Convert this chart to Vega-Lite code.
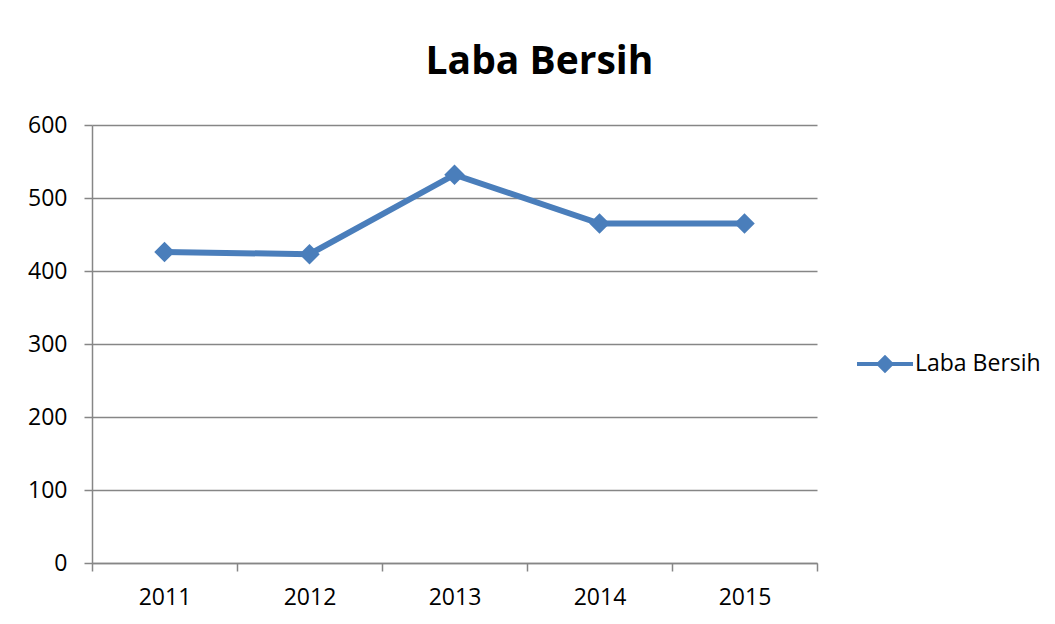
{
  "$schema": "https://vega.github.io/schema/vega-lite/v6.json",
  "width": 725,
  "height": 438,
  "autosize": {"type": "none"},
  "padding": {"left": 92, "top": 125, "right": 238, "bottom": 61},
  "background": "white",
  "title": {
    "text": "Laba Bersih",
    "font": "Open Sans",
    "fontSize": 39,
    "fontWeight": "bold",
    "color": "black",
    "anchor": "middle",
    "frame": "group",
    "baseline": "alphabetic",
    "offset": 1,
    "dx": 85
  },
  "data": {
    "values": [
      {"year": "2011", "value": 426, "series": "Laba Bersih"},
      {"year": "2012", "value": 423, "series": "Laba Bersih"},
      {"year": "2013", "value": 532, "series": "Laba Bersih"},
      {"year": "2014", "value": 465, "series": "Laba Bersih"},
      {"year": "2015", "value": 465, "series": "Laba Bersih"}
    ]
  },
  "encoding": {
    "x": {
      "field": "year",
      "type": "ordinal",
      "bandPosition": 0.5,
      "scale": {"type": "band", "paddingInner": 0, "paddingOuter": 0},
      "axis": {
        "title": null,
        "labelAngle": 0,
        "tickBand": "extent",
        "grid": false,
        "domainColor": "#868686",
        "tickColor": "#868686",
        "domainWidth": 1.5,
        "tickWidth": 1.5,
        "tickSize": 8,
        "labelFont": "Open Sans",
        "labelFontSize": 23,
        "labelColor": "black",
        "labelPadding": 15
      }
    },
    "y": {
      "field": "value",
      "type": "quantitative",
      "scale": {"domain": [0, 600], "nice": false},
      "axis": {
        "title": null,
        "values": [0, 100, 200, 300, 400, 500, 600],
        "grid": true,
        "gridColor": "#868686",
        "gridWidth": 1.5,
        "domainColor": "#868686",
        "tickColor": "#868686",
        "domainWidth": 1.5,
        "tickWidth": 1.5,
        "tickSize": 8,
        "labelFont": "Open Sans",
        "labelFontSize": 23,
        "labelColor": "black",
        "labelPadding": 17
      }
    }
  },
  "layer": [
    {
      "mark": {"type": "line", "color": "#4a7ebb", "strokeWidth": 6}
    },
    {
      "mark": {"type": "point", "shape": "diamond", "filled": true, "size": 420, "opacity": 1},
      "encoding": {
        "color": {
          "field": "series",
          "type": "nominal",
          "scale": {"range": ["#4a7ebb"]},
          "legend": {
            "title": null,
            "orient": "none",
            "legendX": 765,
            "legendY": 211,
            "padding": 0,
            "labelFont": "Open Sans",
            "labelFontSize": 23,
            "labelColor": "black",
            "labelOffset": 2,
            "symbolType": "M-1,-0.07L1,-0.07L1,0.07L-1,0.07ZM0,-0.33L0.33,0L0,0.33L-0.33,0Z",
            "symbolSize": 3136,
            "symbolStrokeWidth": 0,
            "encode": {
              "symbols": {
                "update": {
                  "fill": {"value": "#4a7ebb"},
                  "stroke": {"value": "#4a7ebb"},
                  "strokeWidth": {"value": 0},
                  "opacity": {"value": 1}
                }
              }
            }
          }
        }
      }
    }
  ],
  "config": {
    "view": {"stroke": null}
  }
}
